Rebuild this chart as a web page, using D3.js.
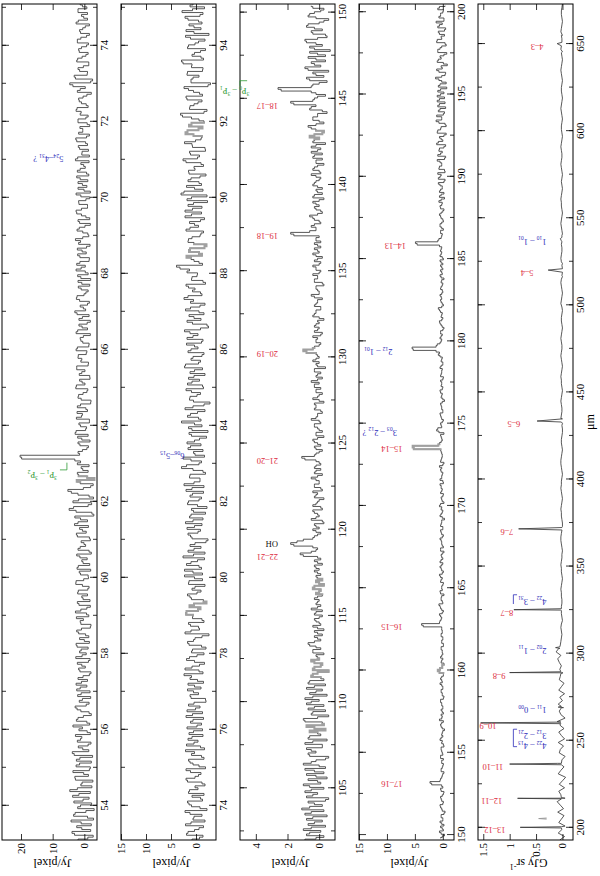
<!DOCTYPE html>
<html><head><meta charset="utf-8">
<script src="https://cdn.jsdelivr.net/npm/d3@7"></script>
<style>
body{margin:0;background:#fff}
svg{display:block}
text{font-family:"Liberation Serif","DejaVu Serif",serif}
</style>
</head><body>
<svg id="c" width="600" height="876"></svg>
<script>
// ---------- DATA ----------
const p1Start = 53.1, p1Step = 0.1;
const p1Flux = [2.0,-2.8,3.9,0.8,-2.2,4.2,-1.0,2.9,-3.1,1.2,3.3,-1.5,1.7,4.6,-2.4,0.7,2.8,-1.3,3.6,-1.9,1.5,2.5,-2.6,3.8,0.5,
-1.2,2.2,0.8,-1.9,1.7,3.6,-0.8,2.0,-2.2,1.1,2.9,-1.5,0.6,2.1,-1.8,1.3,2.6,-1.0,0.4,-2.1,1.8,0.8,-1.3,2.7,-0.6,1.0,2.3,-1.6,1.5,-0.4,
2.4,-1.9,1.1,0.3,-1.4,2.8,-0.8,1.7,-1.8,0.8,2.1,-1.1,0.6,2.6,-1.3,1.2,-2.0,1.9,0.4,-0.9,2.4,-1.5,1.3,0.1,-1.9,2.2,-0.6,1.5,3.1,-1.0,
3.0,-2.4,4.8,-1.2,3.6,-2.9,2.0,5.2,-2.0,1.3,-3.2,
1.8,-1.2,1.0,2.2,3.0,
20.3,
2.0,-0.8,
1.4,-1.8,2.1,2.9,-0.4,1.2,-1.6,2.5,0.6,-1.0,2.2,-2.0,1.0,1.8,-0.8,2.7,-0.2,1.5,-1.7,0.8,
2.4,-1.2,1.1,2.0,-0.6,2.6,-1.4,0.5,1.3,-1.9,2.1,0.7,-0.9,1.7,-1.5,3.0,0.3,-1.0,1.5,2.3,
-0.5,1.0,-1.7,2.0,1.1,-1.2,2.6,-0.3,1.4,-1.6,2.1,0.7,-0.7,1.8,2.8,-1.4,0.5,1.6,-1.9,2.0,
-0.5,2.4,0.9,-1.0,1.8,-1.7,2.6,0.1,-0.8,2.0,1.3,-1.4,2.2,-0.3,1.1,2.8,-1.6,0.7,1.5,-1.0,
2.4,-0.7,1.8,0.5,-1.7,2.0,-0.5,1.3,2.6,-1.2,0.9,1.8,-0.8,2.2,-0.3,4.6,-2.6,3.2,-1.0,2.0,
-1.4,2.4,0.7,-1.2,1.8,-0.7,2.2,1.1,-1.6,1.5,-0.3,2.6,-1.0,0.9,2.0,-0.8,1.3];
// samples half-way between the ones above
const p1FluxMid = [-1.1,3.1,-2.0,2.4,1.0,-2.9,3.4,-0.5,2.1,-2.3,
0.4,3.7,-1.9,2.2,1.1,-2.7,3.0,0.2,-1.6,2.6,
-2.2,1.4,3.2,-1.4,1.9,-2.1,1.2,2.8,-0.9,0.6,
-1.7,2.5,0.3,-1.5,2.3,-0.6,1.6,-2.0,1.0,2.4,
-0.8,0.9,2.0,-1.6,1.4,-0.3,2.2,-1.8,0.7,1.5,
-1.2,2.6,0.0,-1.4,1.8,0.9,-2.1,1.3,2.5,-0.7,
1.1,-1.9,2.2,0.4,-1.0,1.9,-1.5,2.7,0.2,-1.2,
1.6,2.3,-1.7,0.8,1.4,-2.2,2.0,-0.4,1.0,-1.6,
2.5,0.6,-1.3,2.0,1.2,-3.0,2.6,3.4,-2.3,1.8,
-1.5,4.1,0.3,-2.8,2.4,-0.9,2.2,0.5,-1.5,1.2,
19.8,1.5,0.6,-1.3,2.0,0.8,-1.2,2.6,-0.7,1.7,
-1.6,0.9,2.3,-0.5,1.2,-2.1,2.0,0.4,-1.1,2.5,
0.7,-1.8,1.6,-0.2,2.4,-1.3,0.8,1.9,-0.8,2.2,
-1.5,1.1,0.3,2.6,-1.0,1.7,-1.9,0.6,2.3,-0.4,
1.3,-1.6,2.5,0.1,-1.2,1.9,0.8,-2.0,2.1,-0.3,
1.0,2.4,-1.5,1.4,-0.6,2.2,-1.8,1.2,0.5,-1.1,
2.3,-0.2,1.5,-1.7,0.9,2.6,-1.0,1.7,-0.5,1.1,
-1.9,2.0,0.6,-1.1,2.4,-0.7,1.3,0.2,-1.5,2.1,
0.8,-1.3,1.9,-0.4,2.7,-1.6,0.5,1.4,-0.9,2.0,
-1.2,1.0,2.3,-0.6,1.6,0.4,-2.2,1.3,3.6,-2.0,
2.8,-0.9,1.5,0.3,-1.4,2.1,-0.5,1.6,0.9,-1.3,
2.2,-0.7,1.2,0.5,-1.6,1.9,0.2,-1.0,2.0,0.6];

const p2Start = 73.1, p2Step = 0.1;
const p2Flux = [0.8,-1.4,1.6,-0.6,2.1,-1.8,0.4,1.2,-2.2,0.9,
1.7,-0.9,-1.6,1.3,0.2,-1.2,2.0,-0.5,1.1,-1.9,
0.6,1.5,-1.1,0.3,-1.7,1.9,-0.4,0.8,1.4,-1.3,
-0.2,1.1,-1.5,0.7,1.8,-0.8,0.4,-1.9,1.2,0.5,
-1.0,1.6,-0.3,0.9,-1.4,2.2,-0.7,0.3,1.3,-1.6,
0.7,-1.1,1.7,0.2,-2.6,1.0,-0.5,1.5,-1.2,0.6,
1.9,-0.9,0.4,-1.5,1.2,-0.2,0.8,-1.8,1.4,0.3,
-1.3,2.3,-0.6,1.0,-1.7,0.5,1.6,-1.0,0.2,-2.4,
1.1,-0.4,1.8,-1.2,0.6,1.3,-1.9,0.9,-0.3,1.5,
-1.1,0.7,2.0,-1.6,0.4,-0.8,1.2,-1.4,2.9,-0.6,
1.0,-1.7,0.5,1.6,-1.0,0.3,-2.1,1.4,0.8,-1.2,
2.9,-0.5,1.1,-1.8,0.6,-2.8,1.3,-0.2,0.9,-1.5,
1.7,-0.7,0.4,1.2,-1.3,2.1,-0.9,0.6,-1.6,1.0,
0.3,-1.1,1.8,-0.4,2.3,-2.5,0.7,-1.0,1.4,-0.6,
1.1,-1.8,0.5,1.6,-0.9,0.2,2.0,-1.4,0.8,-0.3,
1.3,3.9,-0.6,1.0,-1.2,1.4,-1.7,0.4,1.5,-0.8,
-1.5,1.2,0.3,-0.9,2.2,-1.1,0.7,1.6,-2.3,0.9,
3.0,-1.4,1.9,-0.6,1.0,-2.0,1.5,0.4,-1.0,2.6,
-0.7,1.3,-1.8,0.8,0.1,-1.2,2.1,-0.5,1.4,-1.6,
0.9,3.1,-2.2,1.2,-0.4,1.8,-1.3,0.5,2.4,-2.9,
1.0,-0.6,1.7,-1.4,0.8,2.9,-1.0,0.3,-1.9,1.5,
-0.5,1.1,-2.6,2.0,0.4,-1.2,1.6,-0.8,2.8,-1.7,
0.6];
const p2FluxMid = [-0.7,1.9,0.3,-1.5,1.0,0.6,-1.2,2.2,-0.8,1.4,
-1.3,0.8,1.5,-0.4,-1.8,1.7,0.2,-1.0,2.0,-0.6,
1.2,-1.6,0.9,2.1,-0.9,0.4,1.6,-1.4,0.5,1.8,
-1.1,0.6,2.0,-1.3,0.1,1.5,-2.0,1.0,-0.5,1.7,
0.3,-1.5,1.2,2.4,-0.6,0.8,-1.7,1.9,-0.2,0.9,
-2.0,1.4,0.5,-1.2,2.2,-0.7,1.1,-1.6,0.7,2.0,
-0.4,1.3,-2.1,0.9,1.7,-1.0,0.2,1.5,-1.3,2.3,
0.6,-1.1,1.9,-0.3,2.6,-1.8,0.4,1.2,-2.0,0.8,
1.6,-0.9,0.3,2.1,-1.4,1.0,0.5,-2.2,1.7,-0.6,
1.2,-1.5,0.8,2.4,-0.8,1.3,-1.9,0.6,1.9,-1.1,
2.6,0.2,-1.4,1.1,1.8,-0.7,0.9,-2.4,1.5,0.3,
-1.0,1.7,-0.3,2.2,-1.6,0.5,1.2,-0.9,2.0,-1.3,
0.8,1.5,-1.8,0.3,2.3,-0.5,1.0,-1.2,1.6,-0.4,
1.9,-1.4,0.6,1.2,-0.9,-2.2,1.8,0.4,-1.6,2.1,
-0.8,1.1,2.4,-1.2,0.7,1.5,-1.9,0.9,-0.2,1.8,
3.2,-1.3,0.4,1.9,-0.6,1.2,-2.1,1.6,0.8,-1.0,
2.0,-0.5,1.3,-1.7,0.9,2.2,-1.2,0.5,1.8,-2.2,
2.4,0.3,-1.1,1.6,-0.8,1.4,0.2,-1.5,2.0,-0.3,
1.1,-1.9,0.7,2.3,-1.0,0.5,1.7,-1.3,0.9,-0.6,
2.7,-1.6,1.3,0.4,-1.2,2.0,-0.7,1.5,-2.4,1.0,
0.6,1.8,-1.3,0.9,2.6,-1.5,0.8,-0.9,1.7,0.2,
-1.8,2.1,0.4,-1.0,1.4,-0.5,2.2,-1.4,0.7,1.2];

const p3Start = 102.0, p3Step = 0.2;
const p3Flux = [0.9,-0.3,0.6,1.0,-0.4,0.3,0.8,-0.5,0.5,1.1,
-0.2,0.7,-0.6,0.4,0.9,-0.3,1.0,0.1,-0.5,0.8,
0.3,-0.4,1.0,0.2,-0.6,0.7,0.5,-0.2,0.9,-0.5,
0.6,0.1,-0.4,0.8,-0.2,1.0,-0.6,0.4,0.7,-0.3,
0.5,0.9,-0.5,0.2,0.8,-0.4,0.6,-0.1,0.4,-0.6,
0.3,-0.2,0.5,0.1,-0.3,0.4,0.2,0.7,-0.1,0.3,
0.1,-0.3,0.4,0.0,0.3,-0.2,0.2,0.5,-0.1,0.1,
0.3,-0.2,0.0,0.4,-0.3,0.2,0.1,-0.1,0.3,0.2,
-0.2,0.3,0.1,
1.2,
0.2,0.4,
1.8,1.0,
0.3,-0.1,0.4,0.2,-0.3,0.5,0.0,0.3,-0.2,0.4,0.1,-0.3,0.2,0.4,-0.1,0.3,0.0,0.5,-0.2,0.2,0.3,-0.1,0.2,
1.1,
0.2,-0.2,0.3,0.1,0.4,-0.3,0.2,0.0,0.3,-0.1,0.5,0.1,-0.2,0.3,0.2,-0.3,0.4,0.0,0.2,-0.1,0.3,0.5,-0.2,0.1,0.3,-0.4,0.2,0.4,0.0,0.2,
1.0,
0.3,-0.1,0.2,0.4,-0.2,0.1,0.3,0.0,-0.3,0.4,0.2,-0.1,0.3,0.1,-0.2,0.5,0.0,0.2,-0.3,0.3,0.1,0.4,-0.1,0.2,0.0,0.3,-0.2,0.4,0.1,-0.1,0.3,0.2,0.0,
1.8,
0.2,0.5,-0.1,0.3,0.6,-0.2,0.2,0.0,0.4,-0.3,0.3,0.1,-0.2,0.4,0.2,-0.1,0.5,0.0,0.3,-0.3,0.2,0.4,-0.2,0.1,0.5,-0.4,0.3,0.6,-0.2,0.2,0.7,-0.3,0.4,0.1,-0.5,0.6,0.2,
1.8,
0.3,-0.4,0.5,
2.6,
0.4,-0.5,0.8,0.2,-0.6,0.9,0.3,-0.4,0.7,0.1,-0.7,0.6,0.2,0.9,-0.5,0.4,-0.2,0.8,0.0,-0.6,0.7,0.3,-0.3,0.5];
const p3FluxMid = [0.2,0.8,-0.1,0.5,0.7,-0.2,0.4,0.9,-0.3,0.6,
0.3,-0.4,0.8,0.1,0.5,0.6,-0.1,0.7,0.2,-0.3,
0.9,0.0,0.5,-0.4,0.6,0.2,0.8,-0.2,0.4,0.7,
-0.1,0.6,0.3,-0.3,0.9,0.1,0.5,-0.4,0.3,0.8,
0.0,0.4,0.6,-0.2,0.3,0.7,-0.3,0.5,0.1,0.4,
-0.1,0.3,0.0,0.2,0.4,-0.1,0.6,0.3,0.1,-0.2,
0.3,0.1,-0.1,0.2,0.0,0.3,-0.2,0.1,0.2,0.0,
0.1,0.2,-0.1,0.3,0.0,-0.2,0.2,0.1,0.0,0.3,
0.1,-0.1,1.0,0.5,0.1,1.6,1.4,0.4,0.1,0.2,
0.0,0.3,-0.2,0.2,0.1,0.4,-0.1,0.2,0.0,0.3,
0.1,-0.2,0.3,0.0,0.2,0.1,0.3,-0.1,0.2,0.0,
0.9,0.3,0.0,0.2,-0.1,0.3,0.1,0.2,-0.2,0.1,
0.3,0.0,0.2,0.1,-0.1,0.2,0.3,0.0,0.1,-0.2,
0.2,0.3,0.0,0.1,0.2,-0.1,0.3,0.1,0.0,0.2,
0.1,0.8,0.4,0.0,0.2,0.1,-0.1,0.3,0.0,0.2,
0.1,0.0,0.3,0.2,-0.1,0.2,0.1,0.3,0.0,0.1,
0.2,-0.2,0.3,0.1,0.0,0.2,0.4,-0.1,0.1,0.2,
0.0,0.3,0.1,-0.1,0.2,1.6,0.6,0.2,0.3,0.0,
0.4,0.1,-0.1,0.3,0.2,0.0,0.4,-0.2,0.2,0.1,
0.3,0.0,0.2,-0.1,0.4,0.1,0.2,-0.2,0.3,0.5,
-0.1,0.2,0.4,0.0,0.3,-0.3,0.5,0.2,0.0,0.4,
0.1,-0.2,0.5,1.6,0.4,0.1,0.2,2.4,0.5,0.0,
0.6,-0.3,0.4,0.7,-0.1,0.5,0.2,-0.4,0.6,0.3,
-0.2,0.8,0.1,-0.4,0.5,0.3,0.7,-0.3,0.2,0.6,
-0.1,0.4];

const p4Start = 149.8, p4Step = 0.2;
const p4Flux = [0.4,-0.3,0.6,0.1,-0.2,0.5,0.0,0.3,-0.4,0.2,0.5,-0.1,0.3,0.1,-0.2,0.4,0.2,
2.3,
0.4,0.1,-0.2,0.3,0.0,0.2,-0.1,0.4,0.1,0.3,
-0.2,0.2,0.5,0.0,0.1,-0.3,0.3,0.2,0.6,0.1,
-0.1,0.3,0.0,0.2,0.4,-0.2,0.1,0.3,0.0,0.5,
0.2,0.2,-0.1,0.9,0.1,-0.2,0.2,0.4,0.0,0.1,
0.3,-0.1,0.2,0.0,0.3,0.1,0.2,
3.8,
0.5,0.2,0.6,-0.1,0.4,0.7,0.1,0.3,-0.2,0.5,
0.2,0.0,0.4,0.1,0.6,-0.1,0.3,0.2,0.5,0.0,
0.3,-0.2,0.4,0.1,0.2,0.5,-0.1,0.3,0.0,0.4,
0.2,-0.3,0.5,0.1,0.3,0.6,-0.2,0.2,0.0,0.4,
0.1,0.3,-0.1,0.5,0.2,0.0,0.4,0.6,-0.2,0.3,
0.1,0.2,0.4,
5.4,
0.6,0.1,0.3,-0.2,1.1,0.2,0.4,-0.1,0.3,0.5,
0.0,0.2,0.4,-0.3,0.3,0.1,0.5,0.0,0.2,0.4,
-0.1,0.3,0.2,0.5,0.0,0.3,0.1,0.8,
1.2,
5.5,
1.0,0.3,0.5,0.1,0.4,-0.2,0.3,0.6,0.0,0.2,
0.4,0.8,-0.1,0.3,0.2,0.5,0.0,0.4,0.1,0.3,
-0.2,0.5,0.2,0.0,0.4,0.3,-0.1,0.5,0.2,0.3,0.6,
4.9,
0.7,0.2,0.4,-0.1,0.5,0.2,0.0,0.4,0.3,-0.2,
0.5,0.1,0.3,0.6,-0.2,0.4,0.1,0.8,-0.4,0.5,
0.9,-0.3,0.6,0.2,1.0,-0.5,0.4,0.7,-0.2,1.1,
0.0,0.6,-0.6,0.9,0.3,-0.4,1.2,0.2,-0.1,0.8,
-0.5,0.6,1.0,-0.3,0.4,0.9,-0.7,0.5,0.2,1.3,
-0.4,0.7,0.1,-0.8,1.0,0.3,-0.2,0.9,0.5,-0.6,
1.1,0.2,-0.3,0.8,-0.5,0.6,1.2,-0.2,0.4,0.0,
0.9,-0.4];
const p4FluxMid = [0.1,0.3,-0.1,0.4,0.2,0.0,0.3,-0.2,0.1,0.4,
0.0,0.2,0.4,-0.1,0.3,0.0,2.0,0.5,0.2,0.0,
0.3,0.1,-0.1,0.2,0.4,0.0,0.2,0.3,-0.1,0.1,
0.3,0.2,0.0,0.1,0.4,-0.1,0.2,0.3,0.1,0.0,
0.2,0.4,-0.1,0.1,0.3,0.0,0.2,0.1,0.4,-0.1,
0.6,0.5,0.1,0.3,0.0,0.2,0.1,0.3,-0.1,0.2,
0.0,0.3,0.1,0.2,3.5,0.6,0.3,0.4,0.1,0.2,
0.5,0.0,0.3,0.2,0.4,0.1,0.2,-0.1,0.3,0.4,
0.1,0.2,0.5,0.0,0.3,0.2,0.1,0.4,-0.1,0.2,
0.3,0.1,0.2,0.4,0.0,0.3,0.2,0.1,0.3,0.0,
0.2,0.4,0.1,0.3,-0.1,0.2,0.3,0.5,0.0,0.2,
0.1,0.3,0.2,0.0,0.4,0.2,0.1,0.3,5.2,0.8,
0.3,0.2,0.4,0.7,0.9,0.3,0.1,0.2,0.4,0.0,
0.2,0.3,0.1,0.0,0.2,0.4,0.1,0.3,0.2,0.0,
0.4,0.2,0.1,0.3,0.0,0.2,0.5,0.6,5.3,1.2,
0.5,0.2,0.3,0.4,0.0,0.1,0.5,0.2,0.3,0.1,
0.6,0.2,0.1,0.4,0.3,0.2,0.1,0.3,0.0,0.2,
0.3,0.1,0.4,0.2,0.0,0.5,0.1,0.3,0.4,0.2,
4.6,0.9,0.3,0.1,0.4,0.2,0.5,-0.1,0.3,0.6,
0.0,0.4,0.2,0.7,-0.3,0.3,0.6,0.1,0.5,-0.2,
0.8,0.3,-0.4,0.7,0.2,0.5,-0.3,0.9,0.1,0.6,
-0.5,0.8,0.3,-0.2,1.0,0.4,-0.6,0.7,0.2,1.1,
-0.3,0.5,0.9,-0.4,0.6,1.0,-0.2,0.4,0.8,-0.6,
0.7,0.2,-0.5,1.1,0.3,-0.1,0.8,0.5,-0.7,0.9,
0.2,-0.4,1.0,0.3,0.6,-0.3,0.9,0.1,-0.2,0.7,
0.4,-0.1,0.6];

const p5Start = 193, p5Step = 2;
const p5Flux = [0.05,-0.04,0.08,0.01,-0.05,0.07,0.02,-0.03,0.09,-0.02,
0.04,0.10,-0.05,0.03,0.07,-0.04,0.06,0.00,-0.06,0.08,
0.03,-0.03,0.09,0.01,-0.05,0.06,0.04,-0.02,0.08,-0.04,
0.02,0.07,-0.03,0.05,0.10,-0.05,0.03,0.06,-0.02,0.08,
0.00,0.05,-0.04,0.07,0.02,-0.03,0.06,0.04,-0.01,0.05,
0.02,0.06,0.09,0.03,0.12,0.07,0.04,
0.03,0.02,0.01,0.02,0.03,0.02,0.00,0.01,0.02,0.03,
0.02,0.01,0.01,0.02,0.02,0.03,0.02,0.01,0.00,0.01,
0.02,0.02,0.03,0.02,0.01,0.01,0.00,0.01,0.02,0.03,
0.03,0.02,0.01,0.00,0.00,0.01,0.02,0.02,0.03,0.02,
0.01,0.00,0.01,0.02,0.03,0.02,0.02,0.01,0.00,0.01,
0.02,0.03,0.03,0.02,0.01,0.00,0.01,0.02,0.02,0.01,
0.00,0.00,0.01,0.02,0.03,0.02,0.01,0.01,0.02,0.03,
0.02,0.01,0.00,0.01,0.02,0.02,0.03,0.02,0.01,0.00,
0.01,0.02,0.03,0.02,0.01,0.01,0.02,0.03,0.02,0.01,
0.00,0.01,0.02,0.02,0.01,0.00,0.01,0.03,0.02,0.01,
0.00,0.01,0.02,0.03,0.02,0.01,0.00,0.00,0.01,0.02,
0.03,0.02,0.01,0.01,0.02,0.02,0.01,0.00,0.01,0.02,
0.03,0.02,0.01,0.00,0.01,0.02,0.02,0.03,0.02,0.01,
0.00,0.01,0.02,0.01,0.00,0.01,0.02,0.03,0.02,0.01,
0.01,0.02,0.03,0.02,0.01,0.00,0.01,0.02,0.02,0.01,
0.00,0.01,0.02,0.03,0.02,0.01,0.00,0.01,0.02,0.02,
0.01,0.00,0.01,0.02,0.03,0.02,0.01,0.00,0.01,0.02,
0.03,0.02,0.01,0.01,0.02,0.03,0.02,0.01,0.00,0.01,
0.02,0.02,0.01,0.00];
// SPIRE line profiles: [wavelength, flux]
const p5Lines = [[199.9,0.02],[200.27,0.80],[200.6,0.02],
[216.6,0.02],[216.93,0.85],[217.3,0.02],
[236.2,0.02],[236.6,1.00],[237.0,0.02],
[259.8,0.03],[260.24,1.55],[260.7,0.03],
[268.9,0.02],[269.3,0.08],[269.7,0.02],
[288.6,0.03],[289.12,1.00],[289.6,0.03],
[303.0,0.05],[303.46,0.13],[303.9,0.05],
[324.7,0.02],[325.23,0.92],[325.8,0.02],
[370.9,0.01],[371.65,0.83],[372.4,0.01],
[432.3,0.00],[433.56,0.48],[434.8,0.00],
[516.5,0.00],[520.23,0.27],[524.0,0.00],
[536.5,0.01],[538.3,0.04],[540.1,0.01],
[645.5,0.00],[650.25,0.10],[655.0,0.00]];
const p5Gray = [[205.0,0.30],[205.3,0.45],[205.6,0.30]];

// tick labels
const p1WaveTicks = [54,56,58,60,62,64,66,68,70,72,74];
const p2WaveTicks = [74,76,78,80,82,84,86,88,90,92,94];
const p3WaveTicks = [105,110,115,120,125,130,135,140,145,150];
const p4WaveTicks = [150,155,160,165,170,175,180,185,190,195,200];
const p5WaveTicks = [200,250,300,350,400,450,500,550,600,650];
const p1FluxTicks = [0,10,20];
const p2FluxTicks = [0,5,10,15];
const p3FluxTicks = [0,2,4];
const p4FluxTicks = [0,5,10,15];
const p5FluxTicks = [0,0.5,1,1.5];

// line identifications: text, wavelength, flux where text starts, kind
const p1Labels = [["5_{24}–4_{31} ?",71.1,6.6,"h2o"],["^{3}P_{1} – ^{3}P_{2}",62.78,8.6,"oi"]];
const p2Labels = [["6_{06}–5_{15}",83.28,2.3,"h2o"]];
const p3Labels = [["^{3}P_{0} – ^{3}P_{1}",145.6,4.4,"oi"],["18–17",144.78,2.6,"co"],["19–18",137.2,2.6,"co"],
["20–19",130.37,2.6,"co"],["21–20",124.19,2.6,"co"],["OH",119.35,2.6,"oh"],["22–21",118.58,2.6,"co"]];
const p4Labels = [["14–13",186.0,6.6,"co"],["2_{12} – 1_{01}",179.53,9.0,"h2o"],["3_{03} – 2_{12} ?",174.63,8.2,"h2o"],
["15–14",173.63,7.2,"co"],["16–15",162.81,7.2,"co"],["17–16",153.27,7.2,"co"]];
const p5Labels = [["4–3",650.25,0.36,"co"],["1_{10} – 1_{01}",538.3,0.30,"h2o"],["5–4",520.23,0.55,"co"],
["6–5",433.56,0.80,"co"],["7–6",371.65,0.93,"co"],["4_{22} – 3_{31}",331.5,0.30,"h2o"],["8–7",325.23,0.93,"co"],
["2_{02} – 1_{11}",303.46,0.30,"h2o"],["9–8",289.12,1.08,"co"],["1_{11} – 0_{00}",269.3,0.30,"h2o"],
["10–9",260.24,1.25,"co"],["3_{12} – 2_{21}",254.5,0.30,"h2o"],["4_{22} – 4_{13}",248.6,0.30,"h2o"],
["11–10",236.6,1.12,"co"],["12–11",216.93,1.14,"co"],["13–12",200.27,1.08,"co"]];

// ---------- DRAW ----------
const colors = {co:"#dc2a3c", h2o:"#2b2bb8", oi:"#2f9a36", oh:"#111"};
const svg = d3.select("#c");
const root = svg.append("g").attr("transform","translate(0,876) rotate(-90)");
const X0 = 36, X1 = 872, PH = 95;
const tops = [2,121,240,359,478];

const panels = [
 {start:p1Start, step:p1Step, flux:p1Flux, mid:p1FluxMid, dom:[53.1,75.1], fdom:[-4,26], wt:p1WaveTicks, mt:d3.range(54,75.5,1), ft:p1FluxTicks, labels:p1Labels, ylab:"Jy/pixel", gray:[[62.5,62.7]]},
 {start:p2Start, step:p2Step, flux:p2Flux, mid:p2FluxMid, dom:[73.1,95.1], fdom:[-4,15], wt:p2WaveTicks, mt:d3.range(74,95.5,1), ft:p2FluxTicks, labels:p2Labels, ylab:"Jy/pixel", gray:[[79.0,79.4],[88.4,88.8],[91.6,92.0]]},
 {start:p3Start, step:p3Step, flux:p3Flux, mid:p3FluxMid, dom:[102,150.5], fdom:[-1,5], wt:p3WaveTicks, mt:d3.range(102.5,150.5,2.5), ft:p3FluxTicks, labels:p3Labels, ylab:"Jy/pixel", gray:[[108.2,108.8],[111.4,112.6],[116.2,117.2],[130.2,130.6],[142.6,143.2]]},
 {start:p4Start, step:p4Step, flux:p4Flux, mid:p4FluxMid, dom:[149.7,200.5], fdom:[-2,15], wt:p4WaveTicks, mt:d3.range(152.5,200.5,2.5), ft:p4FluxTicks, labels:p4Labels, ylab:"Jy/pixel", gray:[[159.8,160.4],[173.4,173.8]]},
 {start:p5Start, step:p5Step, flux:p5Flux, extra:p5Lines, dom:[193,673], fdom:[-0.2,1.6], wt:p5WaveTicks, mt:d3.range(200,673,25), ft:p5FluxTicks, labels:p5Labels, ylab:"GJy sr", gray:[]}
];

function addRichText(sel, str, size) {
  const re = /([_^])\{([^}]*)\}|([^_^]+)/g;
  let m, shift = 0;
  while ((m = re.exec(str)) !== null) {
    if (m[1]) {
      const s = m[1] === "_" ? size*0.28 : -size*0.42;
      sel.append("tspan").attr("dy", s - shift).attr("font-size", size*0.68).text(m[2]);
      shift = s;
    } else {
      sel.append("tspan").attr("dy", -shift).attr("font-size", size).text(m[3]);
      shift = 0;
    }
  }
}

panels.forEach((p, k) => {
  const top = tops[k], bot = top + PH;
  const g = root.append("g");
  const x = d3.scaleLinear().domain(p.dom).range([X0, X1]);
  const y = d3.scaleLinear().domain(p.fdom).range([bot, top]);
  let data = [];
  p.flux.forEach((v,i) => {
    data.push([p.start + i*p.step, v]);
    if (p.mid && i < p.mid.length) data.push([p.start + (i+0.5)*p.step, p.mid[i]]);
  });
  if (p.extra) data = data.concat(p.extra).sort((a,b)=>a[0]-b[0]);
  const clipId = "clip"+k;
  g.append("clipPath").attr("id", clipId).append("rect")
    .attr("x", X0).attr("y", top).attr("width", X1-X0).attr("height", PH);
  const line = d3.line().x(d=>x(d[0])).y(d=>y(d[1]));
  if (!p.extra) line.curve(d3.curveStep);
  const gl = g.append("g").attr("clip-path", `url(#${clipId})`);
  gl.append("path").datum(data).attr("d", line).attr("fill","none")
    .attr("stroke","#3a3a3a").attr("stroke-width",0.85);
  p.gray.forEach(r => {
    const seg = data.filter(d => d[0] >= r[0]-1e-6 && d[0] <= r[1]+1e-6);
    gl.append("path").datum(seg).attr("d", line).attr("fill","none")
      .attr("stroke","#a0a0a0").attr("stroke-width",2);
  });
  if (k === 4) {
    gl.append("path").datum(p5Gray).attr("d", line)
      .attr("fill","none").attr("stroke","#9a9a9a").attr("stroke-width",1);
  }
  // frame
  g.append("rect").attr("x",X0).attr("y",top).attr("width",X1-X0).attr("height",PH)
    .attr("fill","none").attr("stroke","#000").attr("stroke-width",1);
  // wavelength axes
  const ab = g.append("g").attr("transform",`translate(0,${bot})`)
    .call(d3.axisBottom(x).tickValues(p.wt).tickSize(-7).tickPadding(3).tickFormat(d=>String(d)));
  const abm = g.append("g").attr("transform",`translate(0,${bot})`)
    .call(d3.axisBottom(x).tickValues(p.mt).tickSize(-4).tickFormat(""));
  const at = g.append("g").attr("transform",`translate(0,${top})`)
    .call(d3.axisTop(x).tickValues(p.wt).tickSize(-7).tickFormat(""));
  const atm = g.append("g").attr("transform",`translate(0,${top})`)
    .call(d3.axisTop(x).tickValues(p.mt).tickSize(-4).tickFormat(""));
  // flux axes
  const al = g.append("g").attr("transform",`translate(${X0},0)`)
    .call(d3.axisLeft(y).tickValues(p.ft).tickSize(-6).tickPadding(3).tickFormat(d=>String(d)));
  const ar = g.append("g").attr("transform",`translate(${X1},0)`)
    .call(d3.axisRight(y).tickValues(p.ft).tickSize(-6).tickFormat(""));
  [ab,abm,at,atm,al,ar].forEach(a => {
    a.select(".domain").remove();
    a.selectAll("line").attr("stroke","#000").attr("stroke-width",0.8);
    a.selectAll("text").attr("font-family","Liberation Serif, DejaVu Serif, serif").attr("font-size",11).attr("fill","#000");
  });
  // y-axis title
  const yt = g.append("text").attr("transform",`translate(17,${top+PH/2+3}) rotate(-90)`)
    .attr("text-anchor","middle").attr("font-size",12).attr("fill","#000");
  if (k === 4) addRichText(yt, "GJy sr^{-1}", 12); else yt.text(p.ylab);
  // line labels
  p.labels.forEach(L => {
    const t = g.append("text")
      .attr("transform",`translate(${x(L[1])},${y(L[2])}) rotate(-90)`)
      .attr("dy","0.33em").attr("fill",colors[L[3]]).attr("font-size",8.5);
    addRichText(t, L[0], 8.5);
  });
  // connector brackets
  const br = (pts, col) => g.append("path").attr("d", d3.line().x(d=>x(d[0])).y(d=>y(d[1]))(pts))
      .attr("fill","none").attr("stroke",col).attr("stroke-width",0.8);
  if (k === 0) br([[62.84,7.7],[62.84,5.5],[63.03,5.5]], colors.oi);
  if (k === 2) br([[146.05,4.55],[146.05,5.0],[145.75,5.0]], colors.oi);
  if (k === 4) {
    br([[333.8,0.86],[333.8,0.93],[328.5,0.93]], colors.h2o);
    br([[256.6,0.86],[256.6,0.93],[246.6,0.93],[246.6,0.86]], colors.h2o);
  }
});
// wavelength unit
root.append("text").attr("x",(X0+X1)/2).attr("y",594).attr("text-anchor","middle")
  .attr("font-size",12).attr("fill","#000").text("μm");
</script>
</body></html>
